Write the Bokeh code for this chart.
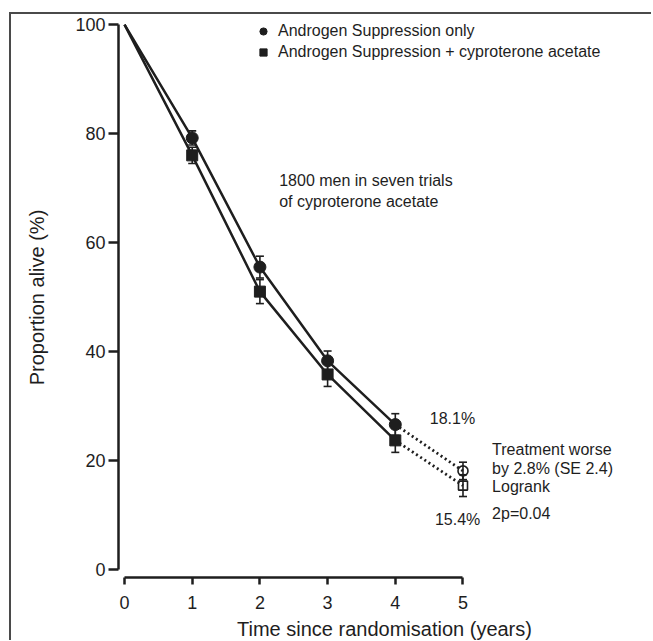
from bokeh.plotting import figure
from bokeh.models import (ColumnDataSource, Whisker, TeeHead, Legend, LegendItem,
                          FixedTicker, Range1d)
from bokeh.core.properties import value
from bokeh.embed import file_html
from bokeh.resources import INLINE

# ---- data ----
years = [0, 1, 2, 3, 4, 5]
as_only = [100, 79.2, 55.5, 38.3, 26.6, 18.1]
as_cpa = [100, 76.0, 51.0, 35.8, 23.7, 15.4]
as_only_se = [0, 1.3, 2.0, 1.8, 2.0, 1.6]
as_cpa_se = [0, 1.5, 2.2, 2.2, 2.2, 2.0]
y_ticks = [0, 20, 40, 60, 80, 100]
x_ticks = [0, 1, 2, 3, 4, 5]
series_labels = ["Androgen Suppression only",
                 "Androgen Suppression + cyproterone acetate"]

FONT = "Liberation Sans"
INK = "#1e1e1e"

# canvas origin sits at (11, 14) on the page because of offset + border below
p = figure(width=640, height=626, output_backend="svg", toolbar_location=None,
           x_range=Range1d(-0.089, 7.77), y_range=Range1d(-1.46, 101.3),
           min_border_left=107, min_border_right=3, min_border_top=3,
           min_border_bottom=61)
p.styles = {"position": "absolute", "left": "9px", "top": "12px",
            "border-left": "2px solid #4a4a4a", "border-top": "2px solid #4a4a4a",
            "box-sizing": "content-box"}
p.outline_line_color = None
p.grid.visible = False
p.background_fill_color = "white"
p.border_fill_color = "white"

# axes
for ax in (p.xaxis[0], p.yaxis[0]):
    ax.axis_line_width = 2.5
    ax.axis_line_color = INK
    ax.major_tick_line_width = 2.5
    ax.major_tick_line_color = INK
    ax.minor_tick_line_color = None
    ax.major_tick_in = 0
    ax.major_label_text_font = FONT
    ax.major_label_text_font_size = "18px"
    ax.major_label_text_color = INK
    ax.axis_label_text_font = FONT
    ax.axis_label_text_font_style = "normal"
    ax.axis_label_text_font_size = "20px"
    ax.axis_label_text_color = INK

p.yaxis.ticker = FixedTicker(ticks=y_ticks)
p.yaxis.bounds = (0, 100)
p.yaxis.major_tick_out = 10
p.yaxis.major_label_standoff = 3
p.yaxis.axis_label = "Proportion alive (%)"
p.yaxis.axis_label_standoff = 24

p.xaxis.ticker = FixedTicker(ticks=x_ticks)
p.xaxis.bounds = (0, 5)
p.xaxis.major_tick_out = 7
p.xaxis.major_label_standoff = 11
p.xaxis.axis_label = "Time since randomisation (years)"
p.xaxis.axis_label_standoff = 6

# lines
solid_n = 5
p.line(years[:solid_n], as_only[:solid_n], line_color=INK, line_width=2.5)
p.line(years[:solid_n], as_cpa[:solid_n], line_color=INK, line_width=2.5)
p.line(years[solid_n - 1:], as_only[solid_n - 1:], line_color=INK, line_width=2.8,
       line_dash="2 3")
p.line(years[solid_n - 1:], as_cpa[solid_n - 1:], line_color=INK, line_width=2.8,
       line_dash="2 3")

# error bars
for vals, se in ((as_only, as_only_se), (as_cpa, as_cpa_se)):
    src = ColumnDataSource(dict(x=years[1:],
                                lo=[v - s for v, s in zip(vals[1:], se[1:])],
                                hi=[v + s for v, s in zip(vals[1:], se[1:])]))
    w = Whisker(source=src, base="x", lower="lo", upper="hi",
                line_color=INK, line_width=1.6,
                upper_head=TeeHead(size=8, line_color=INK, line_width=1.6),
                lower_head=TeeHead(size=8, line_color=INK, line_width=1.6))
    p.add_layout(w)

# markers (filled years 1-4, open year 5)
r_c = p.scatter(years[1:5], as_only[1:5], marker="circle", size=12,
                fill_color=INK, line_color=INK)
r_s = p.scatter(years[1:5], as_cpa[1:5], marker="square", size=11,
                fill_color=INK, line_color=INK)
p.scatter(years[5:], as_only[5:], marker="circle", size=10, fill_alpha=0,
          line_color=INK, line_width=1.6)
p.scatter(years[5:], as_cpa[5:], marker="square", size=9, fill_alpha=0,
          line_color=INK, line_width=1.6)

legend = Legend(items=[LegendItem(label=series_labels[0], renderers=[r_c]),
                       LegendItem(label=series_labels[1], renderers=[r_s])],
                location=(135, 516), padding=0, margin=0, spacing=3,
                glyph_width=20, glyph_height=18, label_height=18,
                label_standoff=5, border_line_alpha=0, background_fill_alpha=0,
                label_text_font=FONT, label_text_font_size="16px",
                label_text_color=INK)
p.add_layout(legend)

# annotations
txt = dict(text_font=value(FONT), text_font_size="16px", text_color=INK,
           text_baseline="middle", text_align="left")
p.text(x=[2.285, 2.285], y=[71.3, 67.5],
       text=["1800 men in seven trials", "of cyproterone acetate"], **txt)
p.text(x=[4.51], y=[27.8], text=["18.1%"], **txt)
p.text(x=[4.585], y=[9.1], text=["15.4%"], **txt)
p.text(x=[5.43, 5.43, 5.43, 5.43], y=[22.1, 18.5, 15.2, 10.2],
       text=["Treatment worse", "by 2.8% (SE 2.4)", "Logrank", "2p=0.04"], **txt)

open("out.html", "w").write(file_html(p, INLINE))
